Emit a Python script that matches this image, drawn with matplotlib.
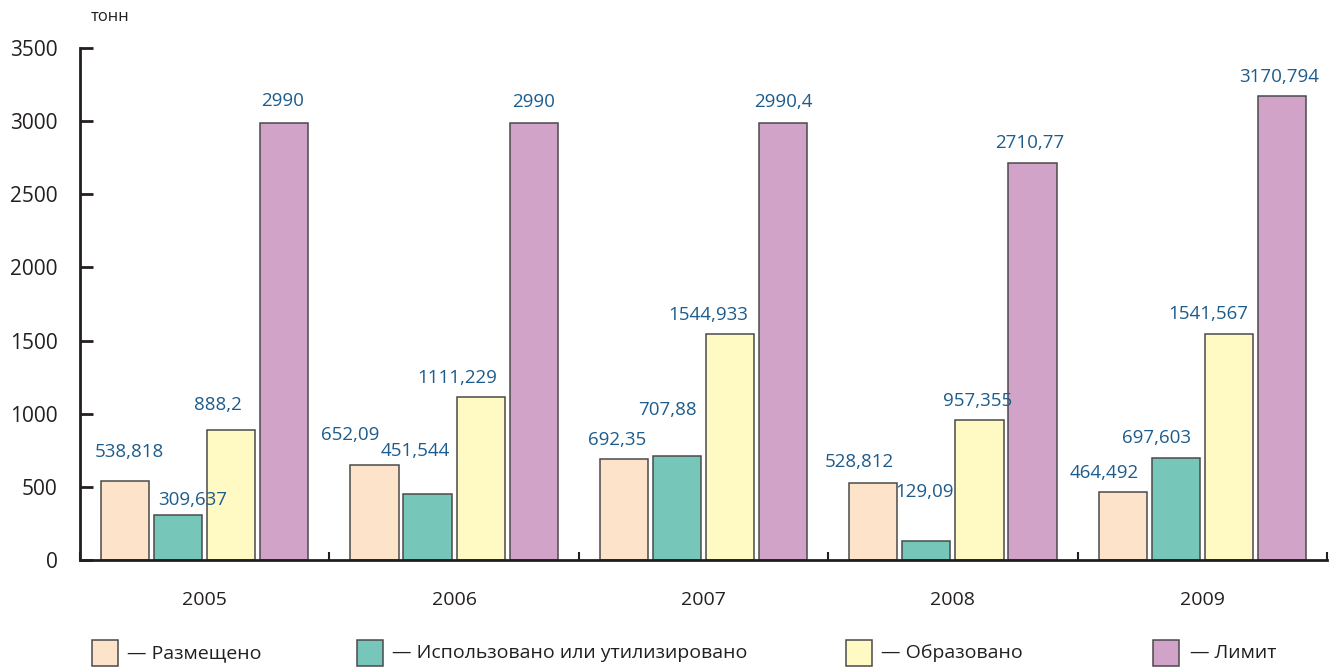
import matplotlib

matplotlib.use("Agg")
import matplotlib.pyplot as plt
import numpy as np
from matplotlib.patches import Rectangle

plt.rcParams["font.family"] = ["Open Sans", "DejaVu Sans"]

years = ["2005", "2006", "2007", "2008", "2009"]
series_names = [
    "Размещено",
    "Использовано или утилизировано",
    "Образовано",
    "Лимит",
]
placed = [538.818, 652.09, 692.35, 528.812, 464.492]
used = [309.637, 451.544, 707.88, 129.09, 697.603]
formed = [888.2, 1111.229, 1544.933, 957.355, 1541.567]
limit = [2990, 2990, 2990.4, 2710.77, 3170.794]
value_labels = [
    ["538,818", "652,09", "692,35", "528,812", "464,492"],
    ["309,637", "451,544", "707,88", "129,09", "697,603"],
    ["888,2", "1111,229", "1544,933", "957,355", "1541,567"],
    ["2990", "2990", "2990,4", "2710,77", "3170,794"],
]

colors = ["#FDE3C9", "#76C7BA", "#FFF9C4", "#D1A3C9"]
label_color = "#1D5C8C"
ink = "#231F20"

# per-label nudges (pixels) so the numbers don't collide
nudges = [
    [(4, 29), (-24, 30), (-7, 19), (-14, 21), (-19, 19)],
    [(15, 15), (-12, 43), (-10, 46), (-2, 49), (-19, 20)],
    [(-13, 25), (-23, 19), (-22, 19), (-2, 19), (-21, 20)],
    [(-2, 22), (0, 21), (0, 21), (-3, 20), (-3, 19)],
]

fig = plt.figure(figsize=(13.42, 6.68), dpi=100)
ax = fig.add_axes([80 / 1342, 108 / 668, 1247 / 1342, 512 / 668])

x = np.arange(len(years))
step = 0.2128
width = 0.193
all_series = [placed, used, formed, limit]
for i, vals in enumerate(all_series):
    pos = x + (i - 1.5) * step
    bars = ax.bar(pos, vals, width=width, color=colors[i],
                  edgecolor="#4a4a4a", linewidth=1.1, zorder=2)
    for j, b in enumerate(bars):
        dx, dy = nudges[i][j]
        ax.annotate(value_labels[i][j],
                    (b.get_x() + b.get_width() / 2, b.get_height()),
                    xytext=(dx, dy), textcoords="offset pixels",
                    ha="center", va="center", fontsize=13.5,
                    color=label_color)

ax.set_xlim(-0.5, 4.5)
ax.set_ylim(0, 3500)
for side in ("top", "right"):
    ax.spines[side].set_visible(False)
for side in ("left", "bottom"):
    ax.spines[side].set_linewidth(2)
    ax.spines[side].set_color(ink)

ax.set_yticks(np.arange(0, 3501, 500))
ax.tick_params(axis="y", direction="in", length=9, width=2, color=ink,
               pad=16, labelsize=15, labelcolor=ink)
ax.set_xticks(x)
ax.set_xticklabels(years)
ax.tick_params(axis="x", length=0, pad=22, labelsize=14, labelcolor=ink)
ax.set_xticks(np.arange(-0.5, 4.6, 1.0), minor=True)
ax.tick_params(axis="x", which="minor", direction="in", length=6,
               width=1.5, color=ink)

fig.text(110 / 1342, 1 - 17 / 668, "тонн", ha="center", va="center",
         fontsize=12, color=ink)

# legend row under the plot
legend_x = [92, 357, 846, 1153]
text_x = [127, 392, 881, 1190]
for i, name in enumerate(series_names):
    fig.add_artist(Rectangle((legend_x[i] / 1342, 1 - 666 / 668),
                             26 / 1342, 26 / 668, transform=fig.transFigure,
                             facecolor=colors[i], edgecolor="#4a4a4a",
                             linewidth=1.1))
    fig.text(text_x[i] / 1342, 1 - 653 / 668, "— " + name,
             ha="left", va="center", fontsize=14, color=ink,
             family=["Liberation Sans Narrow", "Open Sans", "DejaVu Sans"])

fig.savefig("out.png", dpi=100)
